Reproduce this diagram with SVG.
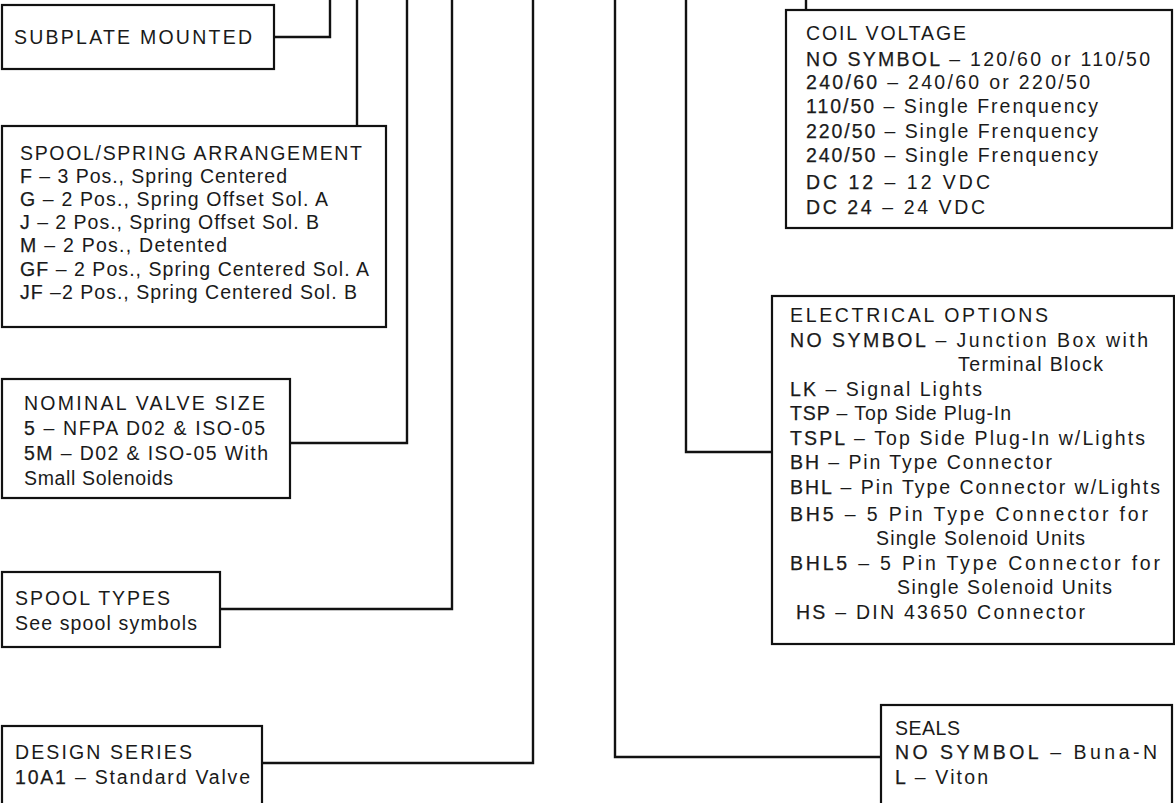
<svg xmlns="http://www.w3.org/2000/svg" width="1175" height="803" viewBox="0 0 1175 803">
<style>
.bg{fill:#fff}
.box{fill:#fff;stroke:#111;stroke-width:2.2}
.con{fill:none;stroke:#111;stroke-width:2.4}
text{font-family:"Liberation Sans",Arial,sans-serif;font-size:19.5px;fill:#1a1a1a}
.k{stroke:#1a1a1a;stroke-width:0.25}
</style>
<rect class="bg" x="0" y="0" width="1175" height="803"/>
<g id="connectors">
<path class="con" d="M274,37 H330 V0"/>
<path class="con" d="M357,0 V126"/>
<path class="con" d="M407,0 V443 H290"/>
<path class="con" d="M452,0 V609 H220"/>
<path class="con" d="M533,0 V763 H262"/>
<path class="con" d="M615,0 V757 H881"/>
<path class="con" d="M686,0 V452 H772"/>
<path class="con" d="M806,0 V10"/>
</g>
<g id="subplate">
<rect class="box" x="2" y="5" width="272" height="64"/>
<text x="14" y="44" textLength="238" lengthAdjust="spacing">SUBPLATE MOUNTED</text>
</g>
<g id="spool-spring">
<rect class="box" x="2" y="126" width="384" height="201"/>
<text x="20" y="160" textLength="342" lengthAdjust="spacing">SPOOL/SPRING ARRANGEMENT</text>
<text x="20" y="183" textLength="267" lengthAdjust="spacing"><tspan class="k">F</tspan> – 3 Pos., Spring Centered</text>
<text x="20" y="206" textLength="308" lengthAdjust="spacing"><tspan class="k">G</tspan> – 2 Pos., Spring Offset Sol. A</text>
<text x="20" y="229" textLength="299" lengthAdjust="spacing"><tspan class="k">J</tspan> – 2 Pos., Spring Offset Sol. B</text>
<text x="20" y="252" textLength="207" lengthAdjust="spacing"><tspan class="k">M</tspan> – 2 Pos., Detented</text>
<text x="20" y="276" textLength="349" lengthAdjust="spacing"><tspan class="k">GF</tspan> – 2 Pos., Spring Centered Sol. A</text>
<text x="20" y="299" textLength="337" lengthAdjust="spacing"><tspan class="k">JF</tspan> –2 Pos., Spring Centered Sol. B</text>
</g>
<g id="nominal-size">
<rect class="box" x="2" y="379" width="288" height="119"/>
<text x="24" y="410" textLength="241" lengthAdjust="spacing">NOMINAL VALVE SIZE</text>
<text x="24" y="435" textLength="241" lengthAdjust="spacing"><tspan class="k">5</tspan> – NFPA D02 &amp; ISO-05</text>
<text x="24" y="460" textLength="244" lengthAdjust="spacing"><tspan class="k">5M</tspan> – D02 &amp; ISO-05 With</text>
<text x="24" y="485" textLength="149" lengthAdjust="spacing">Small Solenoids</text>
</g>
<g id="spool-types">
<rect class="box" x="2" y="572" width="218" height="75"/>
<text x="15" y="605" textLength="155" lengthAdjust="spacing">SPOOL TYPES</text>
<text x="15" y="630" textLength="182" lengthAdjust="spacing">See spool symbols</text>
</g>
<g id="design-series">
<rect class="box" x="2" y="726" width="260" height="84"/>
<text x="15" y="759" textLength="177" lengthAdjust="spacing">DESIGN SERIES</text>
<text x="15" y="784" textLength="235" lengthAdjust="spacing"><tspan class="k">10A1</tspan> – Standard Valve</text>
</g>
<g id="coil-voltage">
<rect class="box" x="786" y="10" width="386" height="218"/>
<text x="806" y="40" textLength="160" lengthAdjust="spacing">COIL VOLTAGE</text>
<text x="806" y="66" textLength="344" lengthAdjust="spacing"><tspan class="k">NO SYMBOL</tspan> – 120/60 or 110/50</text>
<text x="806" y="89" textLength="284" lengthAdjust="spacing"><tspan class="k">240/60</tspan> – 240/60 or 220/50</text>
<text x="806" y="113" textLength="292" lengthAdjust="spacing"><tspan class="k">110/50</tspan> – Single Frenquency</text>
<text x="806" y="138" textLength="292" lengthAdjust="spacing"><tspan class="k">220/50</tspan> – Single Frenquency</text>
<text x="806" y="162" textLength="292" lengthAdjust="spacing"><tspan class="k">240/50</tspan> – Single Frenquency</text>
<text x="806" y="189" textLength="184" lengthAdjust="spacing"><tspan class="k">DC 12</tspan> – 12 VDC</text>
<text x="806" y="214" textLength="179" lengthAdjust="spacing"><tspan class="k">DC 24</tspan> – 24 VDC</text>
</g>
<g id="electrical-options">
<rect class="box" x="772" y="296" width="402" height="348"/>
<text x="790" y="322" textLength="258" lengthAdjust="spacing">ELECTRICAL OPTIONS</text>
<text x="790" y="347" textLength="358" lengthAdjust="spacing"><tspan class="k">NO SYMBOL</tspan> – Junction Box with</text>
<text x="958" y="371" textLength="145" lengthAdjust="spacing">Terminal Block</text>
<text x="790" y="396" textLength="192" lengthAdjust="spacing"><tspan class="k">LK</tspan> – Signal Lights</text>
<text x="790" y="420" textLength="221" lengthAdjust="spacing"><tspan class="k">TSP</tspan> – Top Side Plug-In</text>
<text x="790" y="445" textLength="355" lengthAdjust="spacing"><tspan class="k">TSPL</tspan> – Top Side Plug-In w/Lights</text>
<text x="790" y="469" textLength="262" lengthAdjust="spacing"><tspan class="k">BH</tspan> – Pin Type Connector</text>
<text x="790" y="494" textLength="370" lengthAdjust="spacing"><tspan class="k">BHL</tspan> – Pin Type Connector w/Lights</text>
<text x="790" y="521" textLength="358" lengthAdjust="spacing"><tspan class="k">BH5</tspan> – 5 Pin Type Connector for</text>
<text x="876" y="545" textLength="209" lengthAdjust="spacing">Single Solenoid Units</text>
<text x="790" y="570" textLength="370" lengthAdjust="spacing"><tspan class="k">BHL5</tspan> – 5 Pin Type Connector for</text>
<text x="897" y="594" textLength="215" lengthAdjust="spacing">Single Solenoid Units</text>
<text x="796" y="619" textLength="289" lengthAdjust="spacing"><tspan class="k">HS</tspan> – DIN 43650 Connector</text>
</g>
<g id="seals">
<rect class="box" x="881" y="705" width="291" height="104"/>
<text x="895" y="735" textLength="65" lengthAdjust="spacing">SEALS</text>
<text x="895" y="759" textLength="262" lengthAdjust="spacing"><tspan class="k">NO SYMBOL</tspan> – Buna-N</text>
<text x="895" y="784" textLength="93" lengthAdjust="spacing"><tspan class="k">L</tspan> – Viton</text>
</g>
</svg>
